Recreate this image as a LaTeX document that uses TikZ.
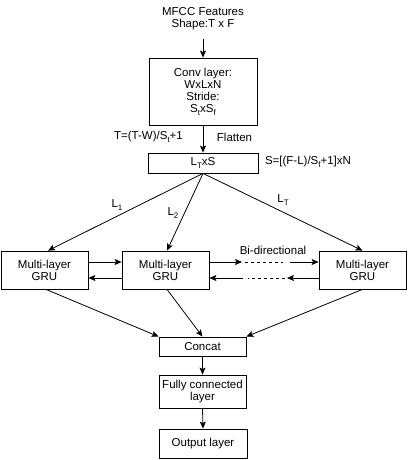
\documentclass[tikz,border=0pt]{standalone}
\usepackage{fontspec}
\setmainfont{Liberation Sans}
\usetikzlibrary{arrows.meta,calc}
\newcommand\sbs[1]{\raisebox{-0.35ex}{\fontsize{8}{8}\selectfont #1}}
\begin{document}
\begin{tikzpicture}[x=1pt,y=-1pt,
  every node/.style={font=\fontsize{11.5}{12.2}\selectfont},
  blk/.style={draw,line width=0.8pt,align=center,inner sep=0pt},
  lbl/.style={align=center,inner sep=0pt},
  arr/.style={line width=0.8pt,-{Stealth[length=7pt,width=6pt,inset=1.5pt]}},
  ln/.style={line width=0.8pt},
  dsh/.style={line width=0.8pt,dashed}]
\useasboundingbox (0,0) rectangle (407,460);
\node[lbl,inner ysep=0pt] (in) at (203,19) {MFCC Features\\Shape:T x F};
\node[blk,minimum width=108pt,minimum height=67pt] (conv) at (203,91.5) {Conv layer:\\WxLxN\\Stride:\\S\sbs{t}xS\sbs{f}};
\node[blk,minimum width=110pt,minimum height=20pt] (lt) at (203,163) {L\sbs{T}xS};
\node[lbl] (tl) at (148.5,137) {T=(T-W)/S\sbs{t}+1};
\node[lbl] (fl) at (234.5,137) {Flatten};
\node[lbl] (sl) at (308,162) {S=[(F-L)/S\sbs{f}+1]xN};
\node[blk,minimum width=87pt,minimum height=38pt] (g1) at (44.5,270) {Multi-layer\\GRU};
\node[blk,minimum width=87pt,minimum height=38pt] (g2) at (165.5,270) {Multi-layer\\GRU};
\node[blk,minimum width=87pt,minimum height=38pt] (g3) at (362.5,270) {Multi-layer\\GRU};
\node[lbl] (l1) at (117,205) {L\sbs{1}};
\node[lbl] (l2) at (173,213) {L\sbs{2}};
\node[lbl] (l3) at (283,200) {L\sbs{T}};
\node[lbl] (bi) at (273,250) {Bi-directional};
\node[blk,minimum width=87pt,minimum height=19pt] (cc) at (202.5,346.5) {Concat};
\node[blk,minimum width=87pt,minimum height=33pt] (fc) at (202.5,391.5) {Fully connected\\layer};
\node[blk,minimum width=88pt,minimum height=29pt] (out) at (203,443.5) {Output layer};
% input arrow
\coordinate (ins) at (203,39);
\draw[arr] (ins) -- (conv.north);
\draw[arr] (conv.south) -- (lt.north);
% fan-out
\draw[arr] (lt.south) -- ($(g1.north)+(3.5,0)$);
\draw[arr] (lt.south) -- ($(g2.north)+(1.5,0)$);
\draw[arr] (lt.south) -- (g3.north);
% GRU chain
\draw[arr] ($(g1.east)+(0,-8)$) -- ($(g2.west)+(0,-8)$);
\draw[arr] ($(g2.west)+(0,8)$) -- ($(g1.east)+(0,8)$);
\coordinate (fa) at (242,262);
\coordinate (fb) at (245,262);
\coordinate (fc1) at (283,262);
\coordinate (fd) at (290,262);
\draw[arr] ($(g2.east)+(0,-8)$) -- (fa);
\draw[dsh] (fb) -- (fc1);
\draw[arr] (fd) -- ($(g3.west)+(0,-8)$);
\coordinate (ba) at (287,278);
\coordinate (bb) at (285,278);
\coordinate (bc) at (248,278);
\coordinate (bd) at (243,278);
\draw[arr] ($(g3.west)+(0,8)$) -- (ba);
\draw[dsh] (bb) -- (bc);
\draw[arr] (bd) -- ($(g2.east)+(0,8)$);
% to concat
\draw[arr] ($(g1.south)+(1.5,0)$) -- (cc.north west);
\draw[arr] ($(g2.south)+(1.5,0)$) -- (cc.north);
\draw[arr] (g3.south) -- (cc.north east);
\draw[arr] (cc.south) -- (fc.north);
\draw[arr] (fc.south) -- (out.north);
\end{tikzpicture}
\end{document}
